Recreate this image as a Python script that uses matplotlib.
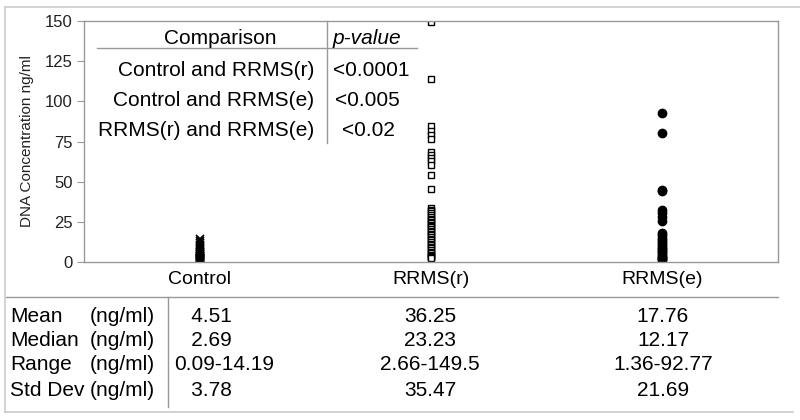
import numpy as np
import matplotlib
matplotlib.use("Agg")
import matplotlib.pyplot as plt
from matplotlib.lines import Line2D
from matplotlib.transforms import blended_transform_factory

plt.rcParams['font.family'] = ['Liberation Sans', 'DejaVu Sans']

# groupes et valeurs (ng/ml)
groups = ["Control", "RRMS(r)", "RRMS(e)"]
control = [0.09, 0.3, 0.5, 0.8, 1.0, 1.3, 1.6, 1.9, 2.1, 2.4, 2.69, 2.9, 3.2, 3.5,
           3.9, 4.3, 4.8, 5.4, 6.1, 7.0, 8.0, 9.2, 10.5, 11.8, 13.0, 14.19]
rrms_r = [149.5, 113.7, 84.6, 81.7, 79.2, 76.3, 68.6, 66.6, 64.5, 62.8, 60.4, 54.1, 45.2,
          33.5, 32.5, 31.5, 30.5, 29.5, 28.0, 27.0, 26.0, 25.0, 24.0, 23.23,
          22.5, 21.5, 20.5, 19.5, 18.5, 17.5, 16.5, 15.5, 14.5, 13.5, 12.5, 11.5,
          10.5, 9.5, 8.5, 7.5, 6.5, 5.5, 4.5, 3.8, 3.2, 2.9, 2.66]
rrms_e = [92.77, 80.1, 44.8, 44.0, 32.4, 30.3, 28.2, 25.7, 17.9, 16.5, 15.0, 13.5, 12.17,
          11.0, 10.0, 9.0, 8.0, 7.0, 6.0, 5.0, 4.0, 3.0, 2.5, 2.0, 1.36]

# tableau des comparaisons
comparisons = ["Control and RRMS(r)", "Control and RRMS(e)", "RRMS(r) and RRMS(e)"]
p_values = ["<0.0001", "<0.005", "<0.02"]

# tableau des statistiques
stat_names = ["Mean", "Median", "Range", "Std Dev"]
stat_control = ["4.51", "2.69", "0.09-14.19", "3.78"]
stat_rrms_r = ["36.25", "23.23", "2.66-149.5", "35.47"]
stat_rrms_e = ["17.76", "12.17", "1.36-92.77", "21.69"]

W, H = 800, 420
fig = plt.figure(figsize=(W / 100, H / 100), dpi=100)


def fx(x):
    return x / W


def fy(y):
    return 1 - y / H


ax = fig.add_axes([fx(84), fy(262), fx(778) - fx(84), fy(21) - fy(262)])

gray = "#999999"
ax.plot(np.zeros(len(control)), control, linestyle="none", marker="x", ms=5.5,
        mec="black", mew=1.3)
ax.plot(np.ones(len(rrms_r)), rrms_r, linestyle="none", marker="s", ms=4.8,
        mfc="white", mec="black", mew=1.0)
ax.plot(np.full(len(rrms_e), 2), rrms_e, linestyle="none", marker="o", ms=6,
        mfc="black", mec="black")

ax.set_xlim(-0.5, 2.5)
ax.set_ylim(0, 150)
ax.set_yticks(np.arange(0, 151, 25))
ax.set_xticks([])
ax.tick_params(axis="y", direction="out", length=5, color=gray, labelsize=12,
               labelcolor="#222222", pad=3)
for s in ax.spines.values():
    s.set_color(gray)
    s.set_linewidth(1.0)
ax.set_ylabel("DNA Concentration ng/ml", fontsize=11, color="#222222", labelpad=8)

# tableau des p-values dans le graphe
fs = 15
fig.text(fx(220), fy(38), "Comparison", ha="center", va="center", fontsize=fs)
fig.text(fx(367), fy(38), "p-value", ha="center", va="center", fontsize=fs, style="italic")
fig.add_artist(Line2D([fx(97), fx(417)], [fy(48), fy(48)], color=gray, lw=1))
fig.add_artist(Line2D([fx(327), fx(327)], [fy(21), fy(143)], color=gray, lw=1))
comp_y = [71, 100, 130]
comp_px = [333, 335, 342]
for i in range(len(comparisons)):
    fig.text(fx(314), fy(comp_y[i]), comparisons[i], ha="right", va="center", fontsize=fs)
    fig.text(fx(comp_px[i]), fy(comp_y[i]), p_values[i], ha="left", va="center", fontsize=fs)

# tableau des statistiques en bas
fs2 = 15
trans = blended_transform_factory(ax.transData, fig.transFigure)
for i, g in enumerate(groups):
    fig.text(i, fy(279), g, ha="center", va="center", fontsize=14, transform=trans)
col_x = [174, 430, 663]
row_y = [316, 340, 365, 390]
for i, name in enumerate(stat_names):
    fig.text(fx(10), fy(row_y[i]), name, ha="left", va="center", fontsize=fs2)
    fig.text(fx(155), fy(row_y[i]), "(ng/ml)", ha="right", va="center", fontsize=fs2)
    # colonne Control alignée à gauche, décalée comme dans Excel
    txt = stat_control[i] if "-" in stat_control[i] else "   " + stat_control[i]
    fig.text(fx(col_x[0]), fy(row_y[i]), txt, ha="left", va="center", fontsize=fs2)
    fig.text(fx(col_x[1]), fy(row_y[i]), stat_rrms_r[i], ha="center", va="center", fontsize=fs2)
    fig.text(fx(col_x[2]), fy(row_y[i]), stat_rrms_e[i], ha="center", va="center", fontsize=fs2)
fig.add_artist(Line2D([fx(6), fx(778)], [fy(297), fy(297)], color=gray, lw=1))
fig.add_artist(Line2D([fx(168), fx(168)], [fy(297), fy(407)], color=gray, lw=1))

# cadre extérieur
light = "#cccccc"
fig.add_artist(Line2D([fx(5), fx(800)], [fy(7), fy(7)], color=light, lw=1.2))
fig.add_artist(Line2D([fx(5), fx(5)], [fy(7), fy(412)], color=light, lw=1.2))
fig.add_artist(Line2D([fx(5), fx(793)], [fy(412), fy(412)], color=light, lw=1.2))

fig.savefig("out.png", dpi=100)
